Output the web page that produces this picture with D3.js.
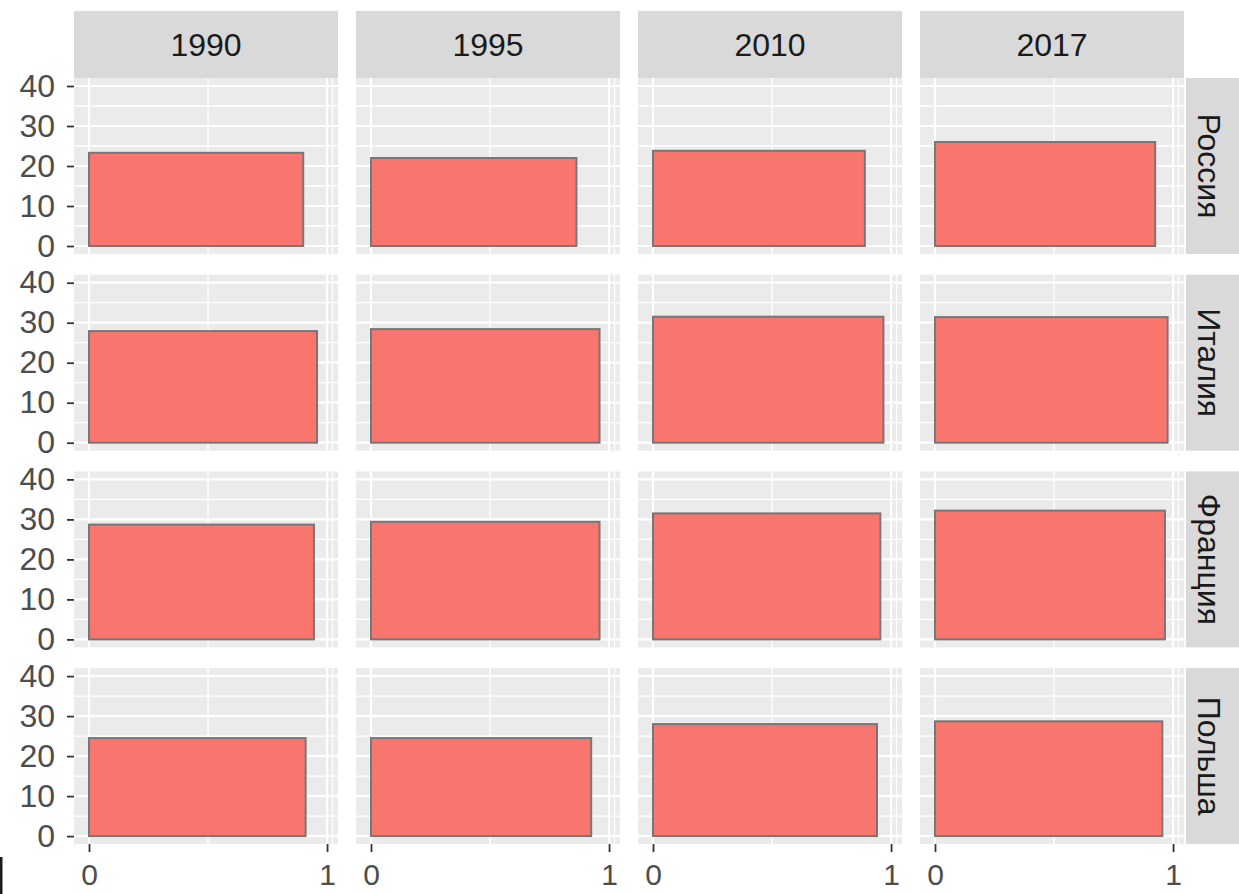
<!DOCTYPE html>
<html>
<head>
<meta charset="utf-8">
<script src="https://cdn.jsdelivr.net/npm/d3@7"></script>
<style>
  html, body { margin: 0; padding: 0; background: #ffffff; }
  svg { display: block; font-family: "Liberation Sans", Arial, sans-serif; }
</style>
</head>
<body>
<svg id="chart" width="1239" height="894"></svg>
<script>
// ---- data ----
const years = ["1990", "1995", "2010", "2017"];
const countries = ["Россия", "Италия", "Франция", "Польша"];
// bar heights (y value) per country, by year
const heightRussia = [23.3, 22.0, 23.8, 26.0];
const heightItaly  = [27.9, 28.4, 31.5, 31.4];
const heightFrance = [28.7, 29.4, 31.5, 32.2];
const heightPoland = [24.5, 24.5, 28.0, 28.7];
// bar extent along x (xmax, from 0) per country, by year
const widthRussia = [0.900, 0.863, 0.890, 0.925];
const widthItaly  = [0.958, 0.960, 0.968, 0.977];
const widthFrance = [0.945, 0.960, 0.955, 0.966];
const widthPoland = [0.910, 0.925, 0.941, 0.955];
const yTicks = [0, 10, 20, 30, 40];
const yMinor = [5, 15, 25, 35];
const xTicks = [0, 1];
const xMinor = [0.5, 1.023];

const heights = [heightRussia, heightItaly, heightFrance, heightPoland];
const widths = [widthRussia, widthItaly, widthFrance, widthPoland];
const cells = [];
countries.forEach((c, r) => years.forEach((y, k) => {
  cells.push({ country: c, year: y, row: r, col: k, value: heights[r][k], xmax: widths[r][k] });
}));

// ---- layout ----
const svg = d3.select("#chart");
const panelX0 = 74, colStep = 282, panelW = 264;
const panelY0 = 78, rowStep = 196.7, panelH = 176;
const stripTop = 11;
const fontSize = 32;

const x = d3.scaleLinear().domain([-0.063, 1.046]).range([0, panelW]);
const y = d3.scaleLinear().domain([-2, 42]).range([panelH, 0]);

// top strips
years.forEach((yr, k) => {
  const g = svg.append("g").attr("transform", `translate(${panelX0 + k * colStep},${stripTop})`);
  g.append("rect").attr("width", panelW).attr("height", panelY0 - stripTop).attr("fill", "#D9D9D9");
  g.append("text").attr("x", panelW / 2).attr("y", (panelY0 - stripTop) / 2)
    .attr("dy", "0.36em").attr("text-anchor", "middle")
    .attr("font-size", fontSize).attr("fill", "#1A1A1A").text(yr);
});

// right strips
countries.forEach((c, r) => {
  const sx = panelX0 + 3 * colStep + panelW + 2;
  const g = svg.append("g").attr("transform", `translate(${sx},${panelY0 + r * rowStep})`);
  g.append("rect").attr("width", 66).attr("height", panelH).attr("fill", "#D9D9D9");
  g.append("text").attr("transform", `translate(24,${panelH / 2}) rotate(90)`)
    .attr("dy", "0.36em").attr("text-anchor", "middle")
    .attr("font-size", fontSize).attr("fill", "#1A1A1A").text(c);
});

// panels
cells.forEach(d => {
  const g = svg.append("g")
    .attr("transform", `translate(${panelX0 + d.col * colStep},${panelY0 + d.row * rowStep})`);
  g.append("rect").attr("width", panelW).attr("height", panelH).attr("fill", "#EBEBEB");
  // minor grid
  g.selectAll(".hmin").data(yMinor).enter().append("line")
    .attr("x1", 0).attr("x2", panelW).attr("y1", v => y(v)).attr("y2", v => y(v))
    .attr("stroke", "#FFFFFF").attr("stroke-width", 1.3);
  g.selectAll(".vmin").data(xMinor).enter().append("line")
    .attr("y1", 0).attr("y2", panelH).attr("x1", v => x(v)).attr("x2", v => x(v))
    .attr("stroke", "#FFFFFF").attr("stroke-width", 1.3);
  // major grid
  g.selectAll(".hmaj").data(yTicks).enter().append("line")
    .attr("x1", 0).attr("x2", panelW).attr("y1", v => y(v)).attr("y2", v => y(v))
    .attr("stroke", "#FFFFFF").attr("stroke-width", 2.2);
  g.selectAll(".vmaj").data(xTicks).enter().append("line")
    .attr("y1", 0).attr("y2", panelH).attr("x1", v => x(v)).attr("x2", v => x(v))
    .attr("stroke", "#FFFFFF").attr("stroke-width", 2.2);
  // bar
  g.append("rect")
    .attr("x", x(0)).attr("y", y(d.value))
    .attr("width", x(d.xmax) - x(0)).attr("height", y(0) - y(d.value))
    .attr("fill", "#F8766D").attr("stroke", "#777777").attr("stroke-width", 2);

  // y axis on first column
  if (d.col === 0) {
    const ax = g.append("g").call(d3.axisLeft(y).tickValues(yTicks).tickSize(7).tickPadding(12));
    ax.select(".domain").remove();
    ax.selectAll("line").attr("stroke", "#333333").attr("stroke-width", 1.8);
    ax.selectAll("text").attr("font-size", fontSize).attr("fill", "#4D4D4D")
      .attr("font-family", "Liberation Sans, Arial, sans-serif");
  }
  // x axis on bottom row
  if (d.row === countries.length - 1) {
    const ax = g.append("g").attr("transform", `translate(0,${panelH})`)
      .call(d3.axisBottom(x).tickValues(xTicks).tickFormat(d3.format("d")).tickSize(8).tickPadding(12));
    ax.select(".domain").remove();
    ax.selectAll("line").attr("stroke", "#333333").attr("stroke-width", 1.8);
    ax.selectAll("text").attr("font-size", 30).attr("fill", "#4D4D4D")
      .attr("font-family", "Liberation Sans, Arial, sans-serif");
  }
});

// small dark mark at bottom-left edge, as in the reference image
svg.append("rect").attr("x", 0).attr("y", 857).attr("width", 2.5).attr("height", 37).attr("fill", "#1A1A1A");
</script>
</body>
</html>
